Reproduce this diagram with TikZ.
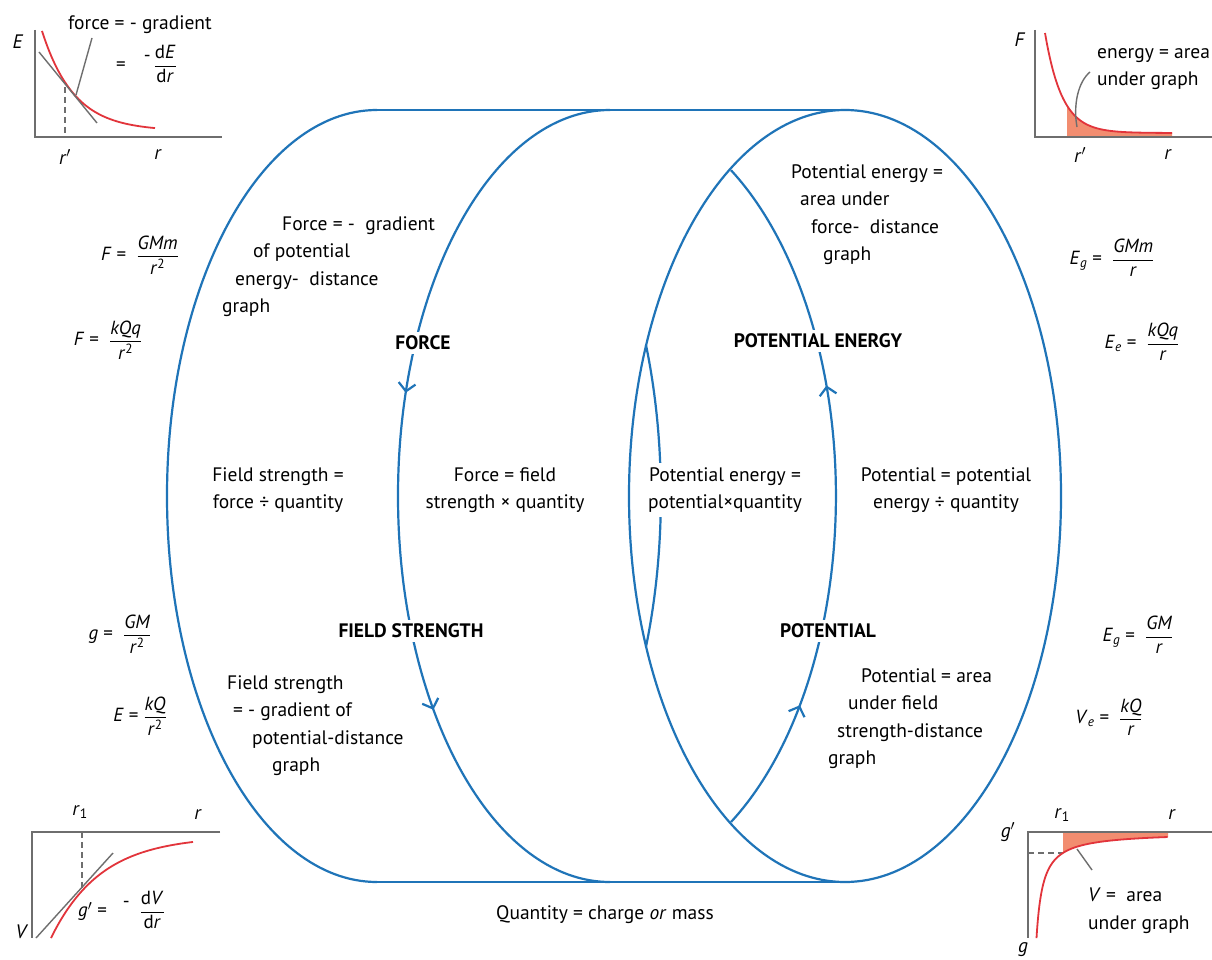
\documentclass[tikz,border=0pt]{standalone}
\usepackage{fontspec}
\setmainfont{PT Sans}
\usepackage{amsmath}
\usetikzlibrary{arrows.meta,decorations.markings}
\definecolor{ringblue}{HTML}{1F74B8}
\definecolor{curve}{HTML}{E2343B}
\definecolor{areafill}{HTML}{F28D70}
\definecolor{axisgrey}{HTML}{6E6E6E}
\newcommand{\qf}[2]{$\dfrac{\text{#1}}{\text{#2}}$}

\begin{document}
\begin{tikzpicture}[x=1pt,y=-1pt,
  txt/.style={font=\fontsize{19.5}{27.5}\selectfont,inner sep=0pt},
  head/.style={font=\fontsize{19.5}{22}\selectfont\bfseries,fill=white,inner sep=4pt},
  eqn/.style={font=\fontsize{19}{22}\selectfont,inner sep=0pt},
  ring/.style={ringblue,line width=2.2pt},
  ax/.style={axisgrey,line width=2pt},
  guide/.style={axisgrey,line width=1.5pt,dash pattern=on 6pt off 4pt},
  trace/.style={curve,line width=1.8pt},
  pointer/.style={axisgrey,line width=1.4pt},
  flow/.style 2 args={postaction={decorate},decoration={markings,
    mark=at position #1 with {\arrow{Straight Barb[length=8pt,width=17pt]}},
    mark=at position #2 with {\arrow{Straight Barb[length=8pt,width=17pt]}}}}]
  \fill[white] (0,0) rectangle (1212,960);
  \useasboundingbox (0,0) rectangle (1212,960);

  % the two cylinders
  \draw[ring] (377,110) -- (845,110);
  \draw[ring] (377,882) -- (845,882);
  \draw[ring] (377,110) arc[start angle=270,end angle=90,x radius=210,y radius=386];
  \draw[ring] (845,496) ellipse[x radius=216,y radius=386];
  \draw[ring,flow={0.392}{0.727}] (610,110) arc[start angle=270,end angle=90,x radius=212,y radius=386];
  \draw[ring,flow={0.195}{0.659}] (731,822) arc[start angle=57.6,end angle=-57.6,x radius=226,y radius=386];
  \draw[ring] (646,345) arc[start angle=-23,end angle=23,x radius=187,y radius=386];

  % quantities
  \node[head] (force) at (423,343) {FORCE};
  \node[head] (penergy) at (818,341) {POTENTIAL ENERGY};
  \node[head] (fstrength) at (411,631) {FIELD STRENGTH};
  \node[head] (potential) at (828,631) {POTENTIAL};

  % links between them
  \node[txt,align=center] (fsdef) at (278,490) {Field strength =\\force ÷ quantity};
  \node[txt,align=center] (fdef) at (505,490) {Force = field\\strength × quantity};
  \node[txt,align=center,fill=white,inner sep=4pt] (pedef) at (725,490) {Potential energy =\\potential×quantity};
  \node[txt,align=center] (pdef) at (946,490) {Potential = potential\\energy ÷ quantity};
  \node[txt,align=left,anchor=north west] (fgrad) at (222,216)
    {\hspace*{60pt}Force = -\ \ gradient\\\hspace*{31pt}of potential\\\hspace*{13pt}energy-\ \ distance\\graph};
  \node[txt,align=left,anchor=north west] (pearea) at (791,164)
    {Potential energy =\\\hspace*{9pt}area under\\\hspace*{20pt}force-\ \ distance\\\hspace*{32pt}graph};
  \node[txt,align=left,anchor=north west] (parea) at (828,668)
    {\hspace*{33pt}Potential = area\\\hspace*{20pt}under field\\\hspace*{9pt}strength-distance\\graph};
  \node[txt,align=left,anchor=north west] (fsgrad) at (227,675)
    {Field strength\\\hspace*{6pt}= - gradient of\\\hspace*{25pt}potential-distance\\\hspace*{45pt}graph};
  \node[txt] (qty) at (605,915) {Quantity = charge \textit{or} mass};

  % formulas
  \node[eqn] (fgrav) at (140,255) {\textit{F} =\ \ \qf{\textit{GMm}}{\textit{r}\textsuperscript{2}}};
  \node[eqn] (felec) at (108,340) {\textit{F} =\ \ \qf{\textit{kQq}}{\textit{r}\textsuperscript{2}}};
  \node[eqn] (ggrav) at (120,634) {\textit{g} =\ \ \qf{\textit{GM}}{\textit{r}\textsuperscript{2}}};
  \node[eqn] (eelec) at (140,716) {\textit{E} = \qf{\textit{kQ}}{\textit{r}\textsuperscript{2}}};
  \node[eqn] (epgrav) at (1112,258) {\textit{E}\textsubscript{\textit{g}} =\ \ \qf{\textit{GMm}}{\textit{r}}};
  \node[eqn] (epelec) at (1142,342) {\textit{E}\textsubscript{\textit{e}} =\ \ \qf{\textit{kQq}}{\textit{r}}};
  \node[eqn] (vgrav) at (1138,635) {\textit{E}\textsubscript{\textit{g}} =\ \ \qf{\textit{GM}}{\textit{r}}};
  \node[eqn] (velec) at (1109,717) {\textit{V}\textsubscript{\textit{e}} =\ \ \qf{\textit{kQ}}{\textit{r}}};

  % energy-distance graph
  \draw[ax] (35,30) -- (35,137) -- (222,137);
  \draw[guide] (65,87) -- (65,137);
  \draw[trace] plot[domain=42:155,samples=60] (\x,{137-100*exp(-(\x-42)/32)-6});
  \draw[pointer] (39,52) -- (97,123);
  \node[txt,anchor=base west] (fgr) at (68,30) {force = - gradient};
  \coordinate (fgrtop) at (92,38);
  \coordinate (tanpt) at (76,95);
  \draw[pointer] (fgrtop) -- (tanpt);
  \node[eqn,anchor=west] (dEdr) at (116,64) {=\hspace{18pt}\raisebox{9pt}{-}\hspace{3pt}\qf{d\textit{E}}{d\textit{r}}};
  \node[txt] (yE) at (18,42) {\textit{E}};
  \node[txt] (rp1) at (65,157) {\textit{r}$'$};
  \node[txt] (r1) at (158,155) {\textit{r}};

  % force-distance graph
  \fill[areafill] (1067,137) -- plot[domain=1067:1172,samples=50] (\x,{133-100*exp(-(\x-1045)/17)}) -- (1172,137) -- cycle;
  \draw[ax] (1035,30) -- (1035,137) -- (1212,137);
  \draw[trace] plot[domain=1045:1172,samples=80] (\x,{133-100*exp(-(\x-1045)/17)});
  \node[txt,align=left,anchor=north west] (area1) at (1097,48) {energy = area\\under graph};
  \coordinate (area1tip) at (1077,127);
  \draw[pointer] (1090,72) .. controls (1078,82) and (1073,105) .. (area1tip);
  \node[txt] (yF) at (1020,40) {\textit{F}};
  \node[txt] (rp2) at (1080,155) {\textit{r}$'$};
  \node[txt] (r2) at (1168,155) {\textit{r}};

  % potential-distance graph
  \draw[ax] (220,832) -- (32,832) -- (32,938);
  \draw[guide] (82,832) -- (82,890);
  \draw[trace] plot[domain=51:193,samples=60] (\x,{836+102*exp(-(\x-51)/50)});
  \draw[pointer] (36,938) -- (113,853);
  \node[txt] (r13) at (80,812) {\textit{r}\textsubscript{1}};
  \node[txt] (r3) at (198,815) {\textit{r}};
  \node[txt] (yV) at (22,932) {\textit{V}};
  \node[eqn,anchor=west] (dVdr) at (78,910) {\textit{g}$'$ =\hspace{16pt}\raisebox{9pt}{-}\hspace{10pt}\qf{d\textit{V}}{d\textit{r}}};

  % field strength-distance graph
  \fill[areafill] (1063,832) -- plot[domain=1063:1168,samples=50] (\x,{832+690/(\x-1030)}) -- (1168,832) -- cycle;
  \draw[ax] (1212,832) -- (1028,832) -- (1028,938);
  \draw[guide] (1028,853) -- (1063,853);
  \draw[trace] plot[domain=0:1,samples=60] ({1030+6.5*exp(3.055*\x)},{832+690/(6.5*exp(3.055*\x))});
  \node[txt,align=left,anchor=north west] (area2) at (1088,888) {\textit{V} =\ \ area\\under graph};
  \coordinate (area2top) at (1077,849);
  \coordinate (area2end) at (1092,870);
  \draw[pointer] (area2top) -- (area2end);
  \node[txt] (r14) at (1062,815) {\textit{r}\textsubscript{1}};
  \node[txt] (r4) at (1172,815) {\textit{r}};
  \node[txt] (yg1) at (1008,832) {\textit{g}$'$};
  \node[txt] (yg2) at (1023,950) {\textit{g}};
\end{tikzpicture}
\end{document}
